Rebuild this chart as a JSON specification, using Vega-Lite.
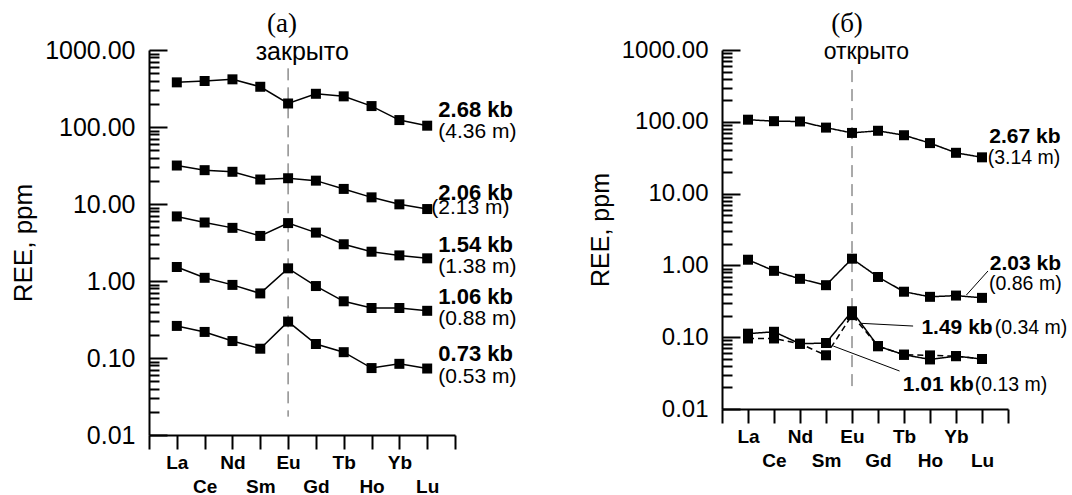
{
  "$schema": "https://vega.github.io/schema/vega-lite/v6.json",
  "padding": {"left": 10, "top": 10, "right": 0, "bottom": 0},
  "spacing": 71,
  "config": {
    "view": {"stroke": null},
    "font": "Liberation Sans",
    "axis": {"grid": false, "domainColor": "black", "tickColor": "black", "labelColor": "black", "titleColor": "black"}
  },
  "datasets": {
    "ser_a": [
      {"s": "2.68 kb", "el": "La", "n": 1, "v": 380}, {"s": "2.68 kb", "el": "Ce", "n": 2, "v": 396}, {"s": "2.68 kb", "el": "Nd", "n": 3, "v": 416}, {"s": "2.68 kb", "el": "Sm", "n": 4, "v": 333}, {"s": "2.68 kb", "el": "Eu", "n": 5, "v": 202}, {"s": "2.68 kb", "el": "Gd", "n": 6, "v": 270}, {"s": "2.68 kb", "el": "Tb", "n": 7, "v": 250}, {"s": "2.68 kb", "el": "Ho", "n": 8, "v": 187}, {"s": "2.68 kb", "el": "Yb", "n": 9, "v": 123}, {"s": "2.68 kb", "el": "Lu", "n": 10, "v": 104},
      {"s": "2.06 kb", "el": "La", "n": 1, "v": 31.6}, {"s": "2.06 kb", "el": "Ce", "n": 2, "v": 27.5}, {"s": "2.06 kb", "el": "Nd", "n": 3, "v": 26.2}, {"s": "2.06 kb", "el": "Sm", "n": 4, "v": 20.8}, {"s": "2.06 kb", "el": "Eu", "n": 5, "v": 21.6}, {"s": "2.06 kb", "el": "Gd", "n": 6, "v": 20.1}, {"s": "2.06 kb", "el": "Tb", "n": 7, "v": 15.7}, {"s": "2.06 kb", "el": "Ho", "n": 8, "v": 12.2}, {"s": "2.06 kb", "el": "Yb", "n": 9, "v": 9.9}, {"s": "2.06 kb", "el": "Lu", "n": 10, "v": 8.6},
      {"s": "1.54 kb", "el": "La", "n": 1, "v": 6.9}, {"s": "1.54 kb", "el": "Ce", "n": 2, "v": 5.75}, {"s": "1.54 kb", "el": "Nd", "n": 3, "v": 4.9}, {"s": "1.54 kb", "el": "Sm", "n": 4, "v": 3.85}, {"s": "1.54 kb", "el": "Eu", "n": 5, "v": 5.65}, {"s": "1.54 kb", "el": "Gd", "n": 6, "v": 4.25}, {"s": "1.54 kb", "el": "Tb", "n": 7, "v": 3.0}, {"s": "1.54 kb", "el": "Ho", "n": 8, "v": 2.4}, {"s": "1.54 kb", "el": "Yb", "n": 9, "v": 2.15}, {"s": "1.54 kb", "el": "Lu", "n": 10, "v": 1.97},
      {"s": "1.06 kb", "el": "La", "n": 1, "v": 1.52}, {"s": "1.06 kb", "el": "Ce", "n": 2, "v": 1.10}, {"s": "1.06 kb", "el": "Nd", "n": 3, "v": 0.89}, {"s": "1.06 kb", "el": "Sm", "n": 4, "v": 0.69}, {"s": "1.06 kb", "el": "Eu", "n": 5, "v": 1.46}, {"s": "1.06 kb", "el": "Gd", "n": 6, "v": 0.86}, {"s": "1.06 kb", "el": "Tb", "n": 7, "v": 0.545}, {"s": "1.06 kb", "el": "Ho", "n": 8, "v": 0.446}, {"s": "1.06 kb", "el": "Yb", "n": 9, "v": 0.446}, {"s": "1.06 kb", "el": "Lu", "n": 10, "v": 0.41},
      {"s": "0.73 kb", "el": "La", "n": 1, "v": 0.261}, {"s": "0.73 kb", "el": "Ce", "n": 2, "v": 0.218}, {"s": "0.73 kb", "el": "Nd", "n": 3, "v": 0.166}, {"s": "0.73 kb", "el": "Sm", "n": 4, "v": 0.132}, {"s": "0.73 kb", "el": "Eu", "n": 5, "v": 0.297}, {"s": "0.73 kb", "el": "Gd", "n": 6, "v": 0.152}, {"s": "0.73 kb", "el": "Tb", "n": 7, "v": 0.119}, {"s": "0.73 kb", "el": "Ho", "n": 8, "v": 0.074}, {"s": "0.73 kb", "el": "Yb", "n": 9, "v": 0.084}, {"s": "0.73 kb", "el": "Lu", "n": 10, "v": 0.073}
    ],
    "lab_a": [
      {"t": "2.68 kb", "kind": "kb", "n": 10.4, "v": 166}, {"t": "(4.36 m)", "kind": "m", "n": 10.4, "v": 85},
      {"t": "2.06 kb", "kind": "kb", "n": 10.4, "v": 14.0}, {"t": "(2.13 m)", "kind": "m", "n": 10.15, "v": 8.8},
      {"t": "1.54 kb", "kind": "kb", "n": 10.4, "v": 2.94}, {"t": "(1.38 m)", "kind": "m", "n": 10.4, "v": 1.53},
      {"t": "1.06 kb", "kind": "kb", "n": 10.4, "v": 0.625}, {"t": "(0.88 m)", "kind": "m", "n": 10.4, "v": 0.321},
      {"t": "0.73 kb", "kind": "kb", "n": 10.4, "v": 0.1117}, {"t": "(0.53 m)", "kind": "m", "n": 10.4, "v": 0.0571}
    ],
    "eu_a": [{"n": 5, "v1": 578, "v2": 0.0173}],
    "head_a": [{"t": "закрыто", "n": 5.51, "v": 1000}],
    "ser_b": [
      {"s": "2.67 kb", "el": "La", "n": 1, "v": 107}, {"s": "2.67 kb", "el": "Ce", "n": 2, "v": 102}, {"s": "2.67 kb", "el": "Nd", "n": 3, "v": 101}, {"s": "2.67 kb", "el": "Sm", "n": 4, "v": 83}, {"s": "2.67 kb", "el": "Eu", "n": 5, "v": 70}, {"s": "2.67 kb", "el": "Gd", "n": 6, "v": 75}, {"s": "2.67 kb", "el": "Tb", "n": 7, "v": 65}, {"s": "2.67 kb", "el": "Ho", "n": 8, "v": 50.5}, {"s": "2.67 kb", "el": "Yb", "n": 9, "v": 37}, {"s": "2.67 kb", "el": "Lu", "n": 10, "v": 32},
      {"s": "2.03 kb", "el": "La", "n": 1, "v": 1.2}, {"s": "2.03 kb", "el": "Ce", "n": 2, "v": 0.84}, {"s": "2.03 kb", "el": "Nd", "n": 3, "v": 0.65}, {"s": "2.03 kb", "el": "Sm", "n": 4, "v": 0.53}, {"s": "2.03 kb", "el": "Eu", "n": 5, "v": 1.24}, {"s": "2.03 kb", "el": "Gd", "n": 6, "v": 0.69}, {"s": "2.03 kb", "el": "Tb", "n": 7, "v": 0.43}, {"s": "2.03 kb", "el": "Ho", "n": 8, "v": 0.365}, {"s": "2.03 kb", "el": "Yb", "n": 9, "v": 0.38}, {"s": "2.03 kb", "el": "Lu", "n": 10, "v": 0.353},
      {"s": "1.49 kb", "el": "La", "n": 1, "v": 0.112}, {"s": "1.49 kb", "el": "Ce", "n": 2, "v": 0.119}, {"s": "1.49 kb", "el": "Nd", "n": 3, "v": 0.081}, {"s": "1.49 kb", "el": "Sm", "n": 4, "v": 0.083}, {"s": "1.49 kb", "el": "Eu", "n": 5, "v": 0.23}, {"s": "1.49 kb", "el": "Gd", "n": 6, "v": 0.075}, {"s": "1.49 kb", "el": "Tb", "n": 7, "v": 0.057}, {"s": "1.49 kb", "el": "Ho", "n": 8, "v": 0.049}, {"s": "1.49 kb", "el": "Yb", "n": 9, "v": 0.0545}, {"s": "1.49 kb", "el": "Lu", "n": 10, "v": 0.0497},
      {"s": "1.01 kb", "el": "La", "n": 1, "v": 0.096}, {"s": "1.01 kb", "el": "Ce", "n": 2, "v": 0.096}, {"s": "1.01 kb", "el": "Nd", "n": 3, "v": 0.081}, {"s": "1.01 kb", "el": "Sm", "n": 4, "v": 0.056}, {"s": "1.01 kb", "el": "Eu", "n": 5, "v": 0.203}, {"s": "1.01 kb", "el": "Gd", "n": 6, "v": 0.075}, {"s": "1.01 kb", "el": "Tb", "n": 7, "v": 0.057}, {"s": "1.01 kb", "el": "Ho", "n": 8, "v": 0.0558}, {"s": "1.01 kb", "el": "Yb", "n": 9, "v": 0.0545}, {"s": "1.01 kb", "el": "Lu", "n": 10, "v": 0.0497}
    ],
    "lab_b": [
      {"t": "2.67 kb", "kind": "kb", "n": 10.28, "v": 62}, {"t": "(3.14 m)", "kind": "m", "n": 10.22, "v": 31.6},
      {"t": "2.03 kb", "kind": "kb", "n": 10.3, "v": 1.05}, {"t": "(0.86 m)", "kind": "m", "n": 10.27, "v": 0.543},
      {"t": "1.49 kb", "kind": "kb", "n": 7.67, "v": 0.133}, {"t": "(0.34 m)", "kind": "m", "n": 10.49, "v": 0.133},
      {"t": "1.01 kb", "kind": "kb", "n": 6.95, "v": 0.0216}, {"t": "(0.13 m)", "kind": "m", "n": 9.72, "v": 0.0216}
    ],
    "lead_b": [
      {"n1": 9.4, "v1": 0.387, "n2": 10.23, "v2": 0.836},
      {"n1": 5.36, "v1": 0.156, "n2": 7.35, "v2": 0.143},
      {"n1": 4.28, "v1": 0.0753, "n2": 6.83, "v2": 0.0338}
    ],
    "eu_b": [{"n": 5, "v1": 525, "v2": 0.017}],
    "head_b": [{"t": "открыто", "n": 5.55, "v": 1000}]
  },
  "hconcat": [
    {
      "width": 306,
      "height": 385,
      "title": {"text": "(a)", "font": "Liberation Serif", "fontSize": 27, "fontWeight": "normal", "color": "black", "anchor": "middle", "frame": "group", "dx": -20, "offset": 0},
      "resolve": {"axis": {"x": "independent", "y": "independent"}},
      "layer": [
        {
          "data": {"name": "ser_a"},
          "mark": {"type": "line", "stroke": "black", "strokeWidth": 1.5},
          "encoding": {
            "x": {"field": "n", "type": "quantitative", "scale": {"domain": [0, 11], "nice": false, "zero": false},
              "axis": {"orient": "bottom", "title": null, "values": [0, 1, 2, 3, 4, 5, 6, 7, 8, 9, 10, 11], "tickSize": 14, "tickWidth": 2, "domainWidth": 2, "labels": false}},
            "y": {"field": "v", "type": "quantitative", "scale": {"type": "log", "domain": [0.01, 1000], "nice": false},
              "axis": {"orient": "left", "title": "REE, ppm", "titleFontSize": 26, "titleFontWeight": "normal", "titlePadding": 8,
                "values": [0.01, 0.1, 1, 10, 100, 1000], "format": ".2f",
                "tickSize": -18, "tickWidth": 2, "domainWidth": 2, "labelPadding": 32, "labelFontSize": 25, "labelFlush": false, "labelOverlap": false}},
            "detail": {"field": "s"}
          }
        },
        {
          "data": {"name": "eu_a"},
          "mark": {"type": "rule", "stroke": "#555555", "strokeWidth": 1, "strokeDash": [12, 7]},
          "encoding": {
            "x": {"field": "n", "type": "quantitative",
              "axis": {"orient": "bottom", "title": null, "values": [1, 3, 5, 7, 9], "domain": false, "ticks": false, "tickSize": 0, "labelPadding": 18, "labelFontSize": 19, "labelFontWeight": "bold", "labelBaseline": "top", "labelFlush": false, "labelOverlap": false,
                "labelExpr": "['La','Ce','Nd','Sm','Eu','Gd','Tb','Ho','Yb','Lu'][datum.value - 1]"}},
            "y": {"field": "v1", "type": "quantitative",
              "axis": {"orient": "left", "title": null, "values": [0.02, 0.03, 0.04, 0.05, 0.06, 0.07, 0.08, 0.09, 0.2, 0.3, 0.4, 0.5, 0.6, 0.7, 0.8, 0.9, 2, 3, 4, 5, 6, 7, 8, 9, 20, 30, 40, 50, 60, 70, 80, 90, 200, 300, 400, 500, 600, 700, 800, 900], "domain": false, "labels": false, "tickSize": -10, "tickWidth": 2}},
            "y2": {"field": "v2"}
          }
        },
        {
          "data": {"name": "ser_a"},
          "mark": {"type": "square", "size": 100, "filled": true, "color": "black", "opacity": 1},
          "encoding": {
            "x": {"field": "n", "type": "quantitative",
              "axis": {"orient": "bottom", "title": null, "values": [2, 4, 6, 8, 10], "domain": false, "ticks": false, "tickSize": 0, "labelPadding": 42, "labelFontSize": 19, "labelFontWeight": "bold", "labelBaseline": "top", "labelFlush": false, "labelOverlap": false,
                "labelExpr": "['La','Ce','Nd','Sm','Eu','Gd','Tb','Ho','Yb','Lu'][datum.value - 1]"}},
            "y": {"field": "v", "type": "quantitative", "axis": null}
          }
        },
        {
          "data": {"name": "lab_a"},
          "transform": [{"filter": "datum.kind == 'kb'"}],
          "mark": {"type": "text", "align": "left", "baseline": "middle", "fontSize": 22, "fontWeight": "bold", "color": "black"},
          "encoding": {"x": {"field": "n", "type": "quantitative", "axis": null}, "y": {"field": "v", "type": "quantitative", "axis": null}, "text": {"field": "t"}}
        },
        {
          "data": {"name": "lab_a"},
          "transform": [{"filter": "datum.kind == 'm'"}],
          "mark": {"type": "text", "align": "left", "baseline": "middle", "fontSize": 21, "color": "black"},
          "encoding": {"x": {"field": "n", "type": "quantitative", "axis": null}, "y": {"field": "v", "type": "quantitative", "axis": null}, "text": {"field": "t"}}
        },
        {
          "data": {"name": "head_a"},
          "mark": {"type": "text", "align": "center", "baseline": "middle", "fontSize": 25, "color": "black", "dy": 2},
          "encoding": {"x": {"field": "n", "type": "quantitative", "axis": null}, "y": {"field": "v", "type": "quantitative", "axis": null}, "text": {"field": "t"}}
        }
      ]
    },
    {
      "width": 286,
      "height": 359,
      "title": {"text": "(б)", "font": "Liberation Serif", "fontSize": 27, "fontWeight": "normal", "color": "black", "anchor": "middle", "frame": "group", "dx": -18, "offset": 0},
      "resolve": {"axis": {"x": "independent", "y": "independent"}},
      "layer": [
        {
          "data": {"name": "ser_b"},
          "mark": {"type": "line", "stroke": "black", "strokeWidth": 1.5},
          "encoding": {
            "x": {"field": "n", "type": "quantitative", "scale": {"domain": [0, 11], "nice": false, "zero": false},
              "axis": {"orient": "bottom", "title": null, "values": [0, 1, 2, 3, 4, 5, 6, 7, 8, 9, 10, 11], "tickSize": 14, "tickWidth": 2, "domainWidth": 2, "labels": false}},
            "y": {"field": "v", "type": "quantitative", "scale": {"type": "log", "domain": [0.01, 1000], "nice": false},
              "axis": {"orient": "left", "title": "REE, ppm", "titleFontSize": 25, "titleFontWeight": "normal", "titlePadding": 8,
                "values": [0.01, 0.1, 1, 10, 100, 1000], "format": ".2f",
                "tickSize": -18, "tickWidth": 2, "domainWidth": 2, "labelPadding": 32, "labelFontSize": 24, "labelFlush": false, "labelOverlap": false}},
            "detail": {"field": "s"},
            "strokeDash": {"field": "s", "type": "nominal", "scale": {"domain": ["2.67 kb", "2.03 kb", "1.49 kb", "1.01 kb"], "range": [[1, 0], [1, 0], [1, 0], [6, 4]]}, "legend": null}
          }
        },
        {
          "data": {"name": "eu_b"},
          "mark": {"type": "rule", "stroke": "#555555", "strokeWidth": 1, "strokeDash": [12, 7]},
          "encoding": {
            "x": {"field": "n", "type": "quantitative",
              "axis": {"orient": "bottom", "title": null, "values": [1, 3, 5, 7, 9], "domain": false, "ticks": false, "tickSize": 0, "labelPadding": 18, "labelFontSize": 19, "labelFontWeight": "bold", "labelBaseline": "top", "labelFlush": false, "labelOverlap": false,
                "labelExpr": "['La','Ce','Nd','Sm','Eu','Gd','Tb','Ho','Yb','Lu'][datum.value - 1]"}},
            "y": {"field": "v1", "type": "quantitative",
              "axis": {"orient": "left", "title": null, "values": [0.02, 0.03, 0.04, 0.05, 0.06, 0.07, 0.08, 0.09, 0.2, 0.3, 0.4, 0.5, 0.6, 0.7, 0.8, 0.9, 2, 3, 4, 5, 6, 7, 8, 9, 20, 30, 40, 50, 60, 70, 80, 90, 200, 300, 400, 500, 600, 700, 800, 900], "domain": false, "labels": false, "tickSize": -10, "tickWidth": 2}},
            "y2": {"field": "v2"}
          }
        },
        {
          "data": {"name": "lead_b"},
          "mark": {"type": "rule", "stroke": "black", "strokeWidth": 1},
          "encoding": {"x": {"field": "n1", "type": "quantitative", "axis": null}, "x2": {"field": "n2"}, "y": {"field": "v1", "type": "quantitative", "axis": null}, "y2": {"field": "v2"}}
        },
        {
          "data": {"name": "ser_b"},
          "mark": {"type": "square", "size": 100, "filled": true, "color": "black", "opacity": 1},
          "encoding": {
            "x": {"field": "n", "type": "quantitative",
              "axis": {"orient": "bottom", "title": null, "values": [2, 4, 6, 8, 10], "domain": false, "ticks": false, "tickSize": 0, "labelPadding": 42, "labelFontSize": 19, "labelFontWeight": "bold", "labelBaseline": "top", "labelFlush": false, "labelOverlap": false,
                "labelExpr": "['La','Ce','Nd','Sm','Eu','Gd','Tb','Ho','Yb','Lu'][datum.value - 1]"}},
            "y": {"field": "v", "type": "quantitative", "axis": null}
          }
        },
        {
          "data": {"name": "lab_b"},
          "transform": [{"filter": "datum.kind == 'kb'"}],
          "mark": {"type": "text", "align": "left", "baseline": "middle", "fontSize": 21, "fontWeight": "bold", "color": "black"},
          "encoding": {"x": {"field": "n", "type": "quantitative", "axis": null}, "y": {"field": "v", "type": "quantitative", "axis": null}, "text": {"field": "t"}}
        },
        {
          "data": {"name": "lab_b"},
          "transform": [{"filter": "datum.kind == 'm'"}],
          "mark": {"type": "text", "align": "left", "baseline": "middle", "fontSize": 19.5, "color": "black"},
          "encoding": {"x": {"field": "n", "type": "quantitative", "axis": null}, "y": {"field": "v", "type": "quantitative", "axis": null}, "text": {"field": "t"}}
        },
        {
          "data": {"name": "head_b"},
          "mark": {"type": "text", "align": "center", "baseline": "middle", "fontSize": 23, "color": "black", "dy": 2},
          "encoding": {"x": {"field": "n", "type": "quantitative", "axis": null}, "y": {"field": "v", "type": "quantitative", "axis": null}, "text": {"field": "t"}}
        }
      ]
    }
  ]
}
